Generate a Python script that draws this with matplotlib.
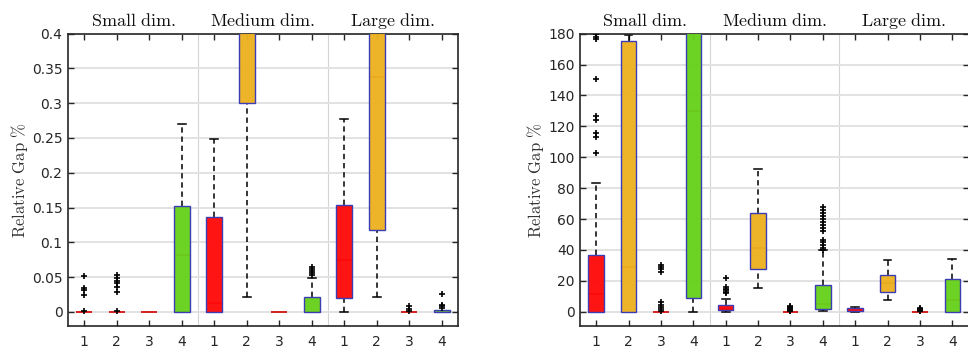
import matplotlib
matplotlib.use('Agg')
import matplotlib.pyplot as plt
import matplotlib.transforms as mtransforms
from matplotlib.patches import Rectangle
from matplotlib.colors import to_rgba

plt.rcParams['mathtext.fontset'] = 'cm'

# ---------------- data ----------------
positions = list(range(1, 13))
tick_labels = ['1', '2', '3', '4'] * 3
group_titles = [r'$\mathrm{Small\ dim.}$', r'$\mathrm{Medium\ dim.}$', r'$\mathrm{Large\ dim.}$']
ylabel_text = r'$\mathrm{Relative\ Gap\ \%}$'
box_colors = ['#FF0A0A', '#EDB120', '#7E2F8E', '#66D11A']

# left panel (Relative Gap %)
left_q1 = [0, 0, 0, 0, 0, 0.301, 0, 0, 0.0195, 0.117, 0, 0]
left_med = [0, 0, 0, 0.082, 0.013, 0.55, 0, 0, 0.075, 0.338, 0, 0]
left_q3 = [0, 0, 0, 0.152, 0.136, 0.9, 0, 0.0215, 0.154, 0.85, 0, 0.003]
left_lo = [0, 0, 0, 0, 0, 0.021, 0, 0, 0, 0.021, 0, 0]
left_hi = [0, 0, 0, 0.270, 0.248, 1.8, 0, 0.048, 0.277, 1.6, 0, 0.003]
left_fliers = [
    [0.001, 0.024, 0.031, 0.034, 0.052],
    [0.001, 0.028, 0.036, 0.041, 0.045, 0.049, 0.053],
    [],
    [],
    [],
    [],
    [],
    [0.053, 0.056, 0.059, 0.062, 0.065],
    [],
    [],
    [0.001, 0.004, 0.008],
    [0.006, 0.008, 0.010, 0.026],
]
left_yticks = [0, 0.05, 0.1, 0.15, 0.2, 0.25, 0.3, 0.35, 0.4]
left_yticklabels = ['0', '0.05', '0.1', '0.15', '0.2', '0.25', '0.3', '0.35', '0.4']

# right panel (Relative Gap %)
right_q1 = [0, 0, 0, 8.8, 0.9, 27.7, 0, 1.9, 0.2, 12.5, 0, 0]
right_med = [11.4, 29.2, 0, 130, 2.0, 41, 0, 5, 1.0, 18.5, 0, 7.7]
right_q3 = [36.8, 175.3, 0, 300, 4.5, 63.7, 0, 17.2, 2.4, 24, 0, 21.3]
right_lo = [0, 0, 0, 0, 0, 15.3, 0, 0.2, 0, 7.7, 0, 0]
right_hi = [83.4, 179, 0, 600, 8.2, 92.5, 0, 40, 3.4, 33.5, 0, 34]
right_fliers = [
    [103, 113, 116, 124, 127, 151, 176.6, 178, 179.8],
    [],
    [0.3, 1.5, 3, 4.5, 6.5, 26, 27.5, 29, 30.5],
    [],
    [12, 13, 14, 15, 16.3, 22],
    [],
    [0.2, 0.8, 1.4, 2, 2.6, 3.2, 3.8],
    [40, 41.5, 43, 45, 46.5, 52, 54, 56, 58, 60, 62, 64, 66, 68],
    [],
    [],
    [0.2, 0.8, 1.4, 2, 2.6],
    [],
]
right_yticks = list(range(0, 181, 20))
right_yticklabels = [str(v) for v in right_yticks]

# ---------------- drawing ----------------
fig = plt.figure(figsize=(9.68, 3.48), dpi=100)
W, H = 968.0, 348.0
axL = fig.add_axes([68 / W, (H - 325.7) / H, 390 / W, 292 / H])
axR = fig.add_axes([580 / W, (H - 325.7) / H, 388.5 / W, 292 / H])

TXT = '#262626'
EDGE = '#3C3CB4'


def draw(ax, q1, med, q3, lo, hi, fliers, yticks, yticklabels, ylim):
    w = 0.48
    for i, x in enumerate(positions):
        c = box_colors[i % 4]
        if hi[i] > q3[i]:
            ax.plot([x, x], [q3[i], hi[i]], ls=(0, (3.5, 2.5)), color='k', lw=1.1, zorder=2)
            ax.plot([x - w / 4, x + w / 4], [hi[i], hi[i]], color='k', lw=1.1, zorder=2)
        if lo[i] < q1[i]:
            ax.plot([x, x], [lo[i], q1[i]], ls=(0, (3.5, 2.5)), color='k', lw=1.1, zorder=2)
        if q3[i] > q1[i] and (lo[i] < q1[i] or i in (3, 7)):
            ax.plot([x - w / 4, x + w / 4], [lo[i], lo[i]], color='k', lw=1.1, zorder=2)
        ax.plot([x - w / 2, x + w / 2], [med[i], med[i]], color='#D42020', lw=1.4, zorder=2.5,
                solid_capstyle='butt')
        if q3[i] > q1[i]:
            ax.add_patch(Rectangle((x - w / 2, q1[i]), w, q3[i] - q1[i],
                                   facecolor=to_rgba(c, 0.96), edgecolor=EDGE, lw=1.0, zorder=3))
        if fliers[i]:
            ax.plot([x] * len(fliers[i]), fliers[i], ls='none', marker='+', color='k',
                    ms=5, mew=1.2, zorder=4)
    for sep in (4.5, 8.5):
        ax.axvline(sep, color='#d4d4d4', lw=0.8, zorder=0)
    ax.set_xlim(0.5, 12.5)
    ax.set_ylim(*ylim)
    ax.set_xticks(positions)
    ax.set_xticklabels(tick_labels)
    ax.set_yticks(yticks)
    ax.set_yticklabels(yticklabels)
    ax.yaxis.grid(True, color='#e2e2e2', lw=1.4, zorder=0)
    ax.set_axisbelow(True)
    ax.tick_params(direction='in', top=True, right=True, length=4, width=1.0,
                   colors=TXT, labelsize=10)
    ax.tick_params(axis='x', pad=7)
    ax.tick_params(axis='y', pad=4)
    for s in ax.spines.values():
        s.set_color(TXT)
        s.set_linewidth(1.2)
    trans = mtransforms.blended_transform_factory(ax.transData, ax.transAxes)
    for k, t in enumerate(group_titles):
        ax.text(2.5 + 4 * k, 1.045, t, transform=trans, ha='center', va='center',
                fontsize=13, color='#111111')


draw(axL, left_q1, left_med, left_q3, left_lo, left_hi, left_fliers,
     left_yticks, left_yticklabels, (-0.02, 0.4))
draw(axR, right_q1, right_med, right_q3, right_lo, right_hi, right_fliers,
     right_yticks, right_yticklabels, (-9, 180))

fig.text(20 / W, 1 - 180 / H, ylabel_text, rotation=90, ha='center', va='center',
         fontsize=12, color='#333333')
fig.text(536 / W, 1 - 180 / H, ylabel_text, rotation=90, ha='center', va='center',
         fontsize=12, color='#333333')

fig.savefig('out.png', dpi=100)
